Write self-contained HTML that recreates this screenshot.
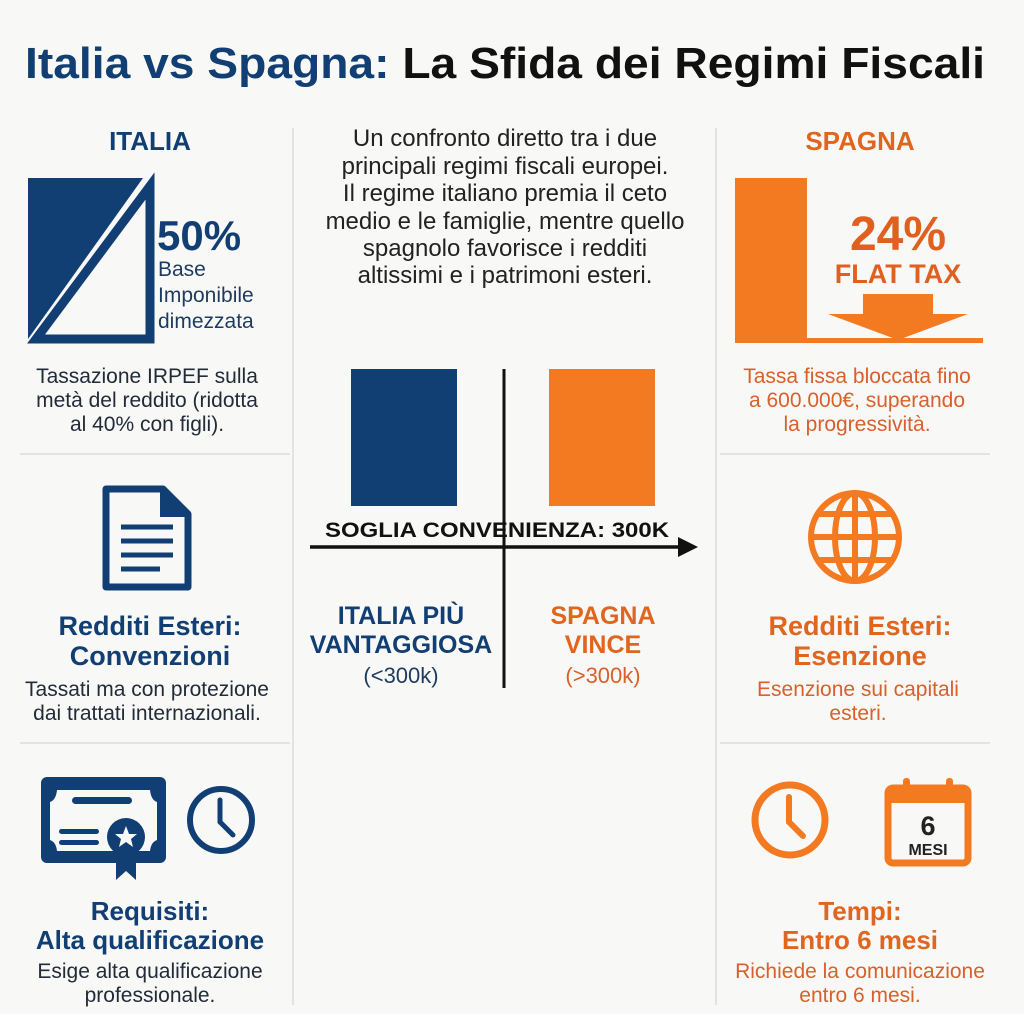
<!DOCTYPE html>
<html><head><meta charset="utf-8"><style>
html,body{margin:0;padding:0;background:#f8f8f7;}
svg{display:block;font-family:"Liberation Sans",sans-serif;}
</style></head><body>
<svg width="1024" height="1014" viewBox="0 0 1024 1014" xmlns="http://www.w3.org/2000/svg">
<rect width="1024" height="1014" fill="#f8f8f7"/>
<text x="25" y="78" font-size="44" font-weight="bold" textLength="960" lengthAdjust="spacingAndGlyphs"><tspan fill="#123f73">Italia vs Spagna:</tspan><tspan fill="#111"> La Sfida dei Regimi Fiscali</tspan></text>
<g stroke="#dcdcdc" stroke-width="1.5">
<line x1="293" y1="128" x2="293" y2="1005"/>
<line x1="716" y1="128" x2="716" y2="1005"/>
<line x1="20" y1="454" x2="290" y2="454"/>
<line x1="20" y1="743" x2="290" y2="743"/>
<line x1="720" y1="454" x2="990" y2="454"/>
<line x1="720" y1="743" x2="990" y2="743"/>
</g>
<g fill="#123f73" text-anchor="middle" font-weight="bold">
<text x="150" y="150" font-size="26">ITALIA</text>
<text x="150" y="635" font-size="27">Redditi Esteri:</text>
<text x="150" y="665" font-size="27">Convenzioni</text>
<text x="150" y="920" font-size="26">Requisiti:</text>
<text x="150" y="949" font-size="26">Alta qualificazione</text>
</g>
<polygon points="28,178 143,178 28,339" fill="#123f73"/>
<polygon points="150,186 150,339 36,339" fill="none" stroke="#123f73" stroke-width="9"/>
<text x="157" y="250" font-size="42" font-weight="bold" fill="#123f73">50%</text>
<g fill="#1d3b5e" font-size="21">
<text x="158" y="276">Base</text>
<text x="158" y="302">Imponibile</text>
<text x="158" y="328">dimezzata</text>
</g>
<g fill="#222c38" font-size="21" text-anchor="middle">
<text x="147" y="383">Tassazione IRPEF sulla</text>
<text x="147" y="407">metà del reddito (ridotta</text>
<text x="147" y="431">al 40% con figli).</text>
<text x="147" y="696">Tassati ma con protezione</text>
<text x="147" y="720">dai trattati internazionali.</text>
<text x="150" y="978">Esige alta qualificazione</text>
<text x="150" y="1002">professionale.</text>
</g>
<path d="M106,489 H163 L188,514 V587 H106 Z" fill="none" stroke="#123f73" stroke-width="7" stroke-linejoin="round"/>
<path d="M160,489 V517 H188" fill="#123f73"/>
<g stroke="#123f73" stroke-width="5"><line x1="121" y1="527" x2="173" y2="527"/><line x1="121" y1="541" x2="173" y2="541"/><line x1="121" y1="555" x2="173" y2="555"/><line x1="121" y1="569" x2="160" y2="569"/></g>
<rect x="41" y="777" width="125" height="86" rx="6" fill="#123f73"/>
<path d="M57,790 H150 Q151,800 157,802 V840 Q151,842 150,851 H57 Q56,842 50,840 V802 Q56,800 57,790 Z" fill="#f8f8f7"/>
<rect x="72" y="797" width="60" height="7" rx="3.5" fill="#123f73"/>
<rect x="59" y="829" width="40" height="5" rx="2.5" fill="#123f73"/>
<rect x="59" y="840" width="40" height="5" rx="2.5" fill="#123f73"/>
<path d="M116,855 V880 L126,871 L136,880 V855 Z" fill="#123f73"/>
<circle cx="126" cy="837" r="19" fill="#123f73"/>
<polygon points="126,826 129,834 137,834 131,839 133,847 126,842 119,847 121,839 115,834 123,834" fill="#f8f8f7"/>
<circle cx="221" cy="820" r="31" fill="none" stroke="#123f73" stroke-width="6"/>
<polyline points="220,800 220,822 233,835" fill="none" stroke="#123f73" stroke-width="5" stroke-linecap="round"/>
<g fill="#222" font-size="24" text-anchor="middle">
<text x="505" y="146">Un confronto diretto tra i due</text>
<text x="505" y="174">principali regimi fiscali europei.</text>
<text x="505" y="201">Il regime italiano premia il ceto</text>
<text x="505" y="229">medio e le famiglie, mentre quello</text>
<text x="505" y="256">spagnolo favorisce i redditi</text>
<text x="505" y="283">altissimi e i patrimoni esteri.</text>
</g>
<rect x="351" y="369" width="106" height="137" fill="#123f73"/>
<rect x="549" y="369" width="106" height="137" fill="#f47a22"/>
<line x1="504" y1="369" x2="504" y2="688" stroke="#111" stroke-width="3"/>
<line x1="310" y1="547" x2="682" y2="547" stroke="#111" stroke-width="3.5"/>
<polygon points="678,537 698,547 678,557" fill="#111"/>
<text x="497" y="537" font-size="21" font-weight="bold" fill="#111" text-anchor="middle" textLength="344" lengthAdjust="spacingAndGlyphs">SOGLIA CONVENIENZA: 300K</text>
<g text-anchor="middle" font-size="25" font-weight="bold">
<text x="401" y="624" fill="#123f73">ITALIA PIÙ</text>
<text x="401" y="653" fill="#123f73">VANTAGGIOSA</text>
<text x="603" y="624" fill="#e0651f">SPAGNA</text>
<text x="603" y="653" fill="#e0651f">VINCE</text>
</g>
<text x="401" y="683" font-size="22" fill="#1d3b5e" text-anchor="middle">(&lt;300k)</text>
<text x="603" y="683" font-size="22" fill="#d8602a" text-anchor="middle">(&gt;300k)</text>
<g fill="#e0651f" text-anchor="middle" font-weight="bold">
<text x="860" y="150" font-size="26">SPAGNA</text>
<text x="860" y="635" font-size="27">Redditi Esteri:</text>
<text x="860" y="665" font-size="27">Esenzione</text>
<text x="860" y="920" font-size="26">Tempi:</text>
<text x="860" y="949" font-size="26">Entro 6 mesi</text>
</g>
<rect x="735" y="178" width="72" height="164" fill="#f47a22"/>
<rect x="735" y="338" width="248" height="5" fill="#f47a22"/>
<rect x="863" y="294" width="70" height="20" fill="#f47a22"/>
<polygon points="828,314 968,314 898,340" fill="#f47a22"/>
<text x="898" y="250" font-size="48" font-weight="bold" fill="#e0601f" text-anchor="middle">24%</text>
<text x="898" y="283" font-size="27" font-weight="bold" fill="#e0601f" text-anchor="middle">FLAT TAX</text>
<g fill="#d8602a" font-size="21" text-anchor="middle">
<text x="857" y="383">Tassa fissa bloccata fino</text>
<text x="857" y="407">a 600.000€, superando</text>
<text x="857" y="431">la progressività.</text>
<text x="858" y="696">Esenzione sui capitali</text>
<text x="858" y="720">esteri.</text>
<text x="860" y="978">Richiede la comunicazione</text>
<text x="860" y="1002">entro 6 mesi.</text>
</g>
<g fill="none" stroke="#f47a22" stroke-width="6">
<circle cx="855" cy="537" r="44"/>
<ellipse cx="855" cy="537" rx="20" ry="44"/>
<line x1="855" y1="493" x2="855" y2="581"/>
<line x1="811" y1="537" x2="899" y2="537"/>
<path d="M818,514 H892 M818,560 H892"/>
</g>
<circle cx="790" cy="820" r="35" fill="none" stroke="#f47a22" stroke-width="7"/>
<polyline points="789,797 789,822 803,836" fill="none" stroke="#f47a22" stroke-width="6" stroke-linecap="round"/>
<rect x="888" y="788" width="80" height="75" rx="5" fill="none" stroke="#f47a22" stroke-width="7"/>
<rect x="888" y="788" width="80" height="15" fill="#f47a22"/>
<rect x="903" y="778" width="7" height="18" rx="3" fill="#f47a22"/>
<rect x="946" y="778" width="7" height="18" rx="3" fill="#f47a22"/>
<text x="928" y="835" font-size="27" font-weight="bold" fill="#222" text-anchor="middle">6</text>
<text x="928" y="855" font-size="16" font-weight="bold" fill="#222" text-anchor="middle">MESI</text>
</svg>
</body></html>
